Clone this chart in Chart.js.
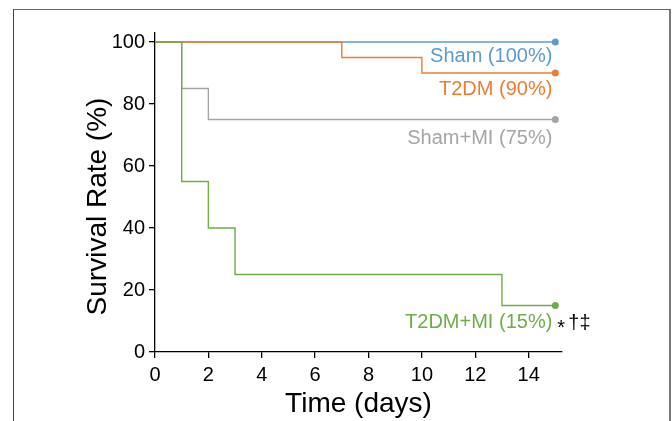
<!DOCTYPE html>
<html>
<head>
<meta charset="utf-8">
<script src="https://cdn.jsdelivr.net/npm/chart.js@4"></script>
<style>
  html, body { margin: 0; padding: 0; background: #fff; }
  #wrap { position: relative; width: 672px; height: 421px; overflow: hidden; }
  #frame {
    position: absolute; left: 13px; top: 9px; width: 655px; height: 430px;
    border-left: 1px solid #444; border-top: 1px solid #666; border-right: 2px solid #777;
  }
  canvas { position: absolute; left: 0; top: 0; }
</style>
</head>
<body>
<div id="wrap">
  <div id="frame"></div>
  <canvas id="km" width="672" height="421"></canvas>
</div>
<script>
// Kaplan-Meier steps: day of each drop, and survival (%) after it
const shamDays = [0, 15];
const shamRate = [100, 100];
const t2dmDays = [0, 7, 10, 15];
const t2dmRate = [100, 95, 90, 90];
const shamMiDays = [0, 1, 2, 15];
const shamMiRate = [100, 85, 75, 75];
const t2dmMiDays = [0, 1, 2, 3, 13, 15];
const t2dmMiRate = [100, 55, 40, 25, 15, 15];

const seriesNames = ['Sham (100%)', 'T2DM (90%)', 'Sham+MI (75%)', 'T2DM+MI (15%)'];
const xTicks = [0, 2, 4, 6, 8, 10, 12, 14];
const yTicks = [0, 20, 40, 60, 80, 100];
const yTitle = 'Survival Rate (%)';

const FONT = '"Liberation Sans", Arial, Helvetica, sans-serif';

function pts(days, rate) {
    return days.map((d, i) => ({ x: d, y: rate[i] }));
}
function endDot(days) {
    return days.map((d, i) => i === days.length - 1 ? 3.5 : 0);
}
function series(label, days, rate, color, order) {
    return {
        label: label,
        data: pts(days, rate),
        borderColor: color,
        backgroundColor: color,
        borderWidth: 1.4,
        stepped: 'before',
        pointRadius: endDot(days),
        pointBorderWidth: 0,
        order: order
    };
}

// series names next to the end dots (dy = offset below the dot) + y title
const endLabels = {
    id: 'endLabels',
    afterDatasetsDraw(chart, args, opts) {
        const ctx = chart.ctx;
        ctx.save();
        ctx.font = '20px ' + FONT;
        ctx.textBaseline = 'middle';
        chart.data.datasets.forEach((ds, i) => {
            const meta = chart.getDatasetMeta(i);
            const p = meta.data[meta.data.length - 1];
            const x = p.x - 3, y = p.y + opts.dy[i];
            ctx.fillStyle = ds.borderColor;
            ctx.textAlign = 'right';
            ctx.fillText(ds.label, x, y);
            if (i === 3) {
                ctx.fillStyle = '#000';
                ctx.textAlign = 'left';
                ctx.fillText('*', x + 5, y + 6);
                ctx.fillText('\u2020\u2021', x + 16, y + 1);
            }
        });
        // y axis title, sits a bit below the middle of the axis
        const ys = chart.scales.y;
        ctx.translate(98, (ys.top + ys.bottom) / 2 + 14);
        ctx.rotate(-Math.PI / 2);
        ctx.font = '28px ' + FONT;
        ctx.fillStyle = '#000';
        ctx.textAlign = 'center';
        ctx.fillText(yTitle, 0, 0);
        ctx.restore();
    }
};

new Chart(document.getElementById('km'), {
    type: 'line',
    data: {
        datasets: [
            series(seriesNames[0], shamDays, shamRate, '#5B9BD5', 3),
            series(seriesNames[1], t2dmDays, t2dmRate, '#ED7D31', 1),
            series(seriesNames[2], shamMiDays, shamMiRate, '#A5A5A5', 2),
            series(seriesNames[3], t2dmMiDays, t2dmMiRate, '#70AD47', 0)
        ]
    },
    options: {
        responsive: false,
        animation: false,
        layout: { padding: { left: 0, top: 33, right: 110, bottom: 0 } },
        plugins: {
            legend: { display: false },
            tooltip: { enabled: false },
            endLabels: { dy: [14, 16, 19, 17] }
        },
        scales: {
            x: {
                type: 'linear',
                min: 0,
                max: 15.25,
                afterBuildTicks: s => { s.ticks = xTicks.map(v => ({ value: v })); },
                afterFit: s => { s.height = 69; },
                grid: { drawOnChartArea: false, drawTicks: true, tickLength: 6, color: '#000', lineWidth: 1.3 },
                border: { display: true, color: '#000', width: 1.3 },
                ticks: { color: '#000', padding: 5, maxRotation: 0, font: { family: FONT, size: 20 } },
                title: { display: true, text: 'Time (days)', color: '#000', padding: { top: 0, bottom: 0 },
                         font: { family: FONT, size: 28 } }
            },
            y: {
                min: 0,
                max: 102.9,
                afterBuildTicks: s => { s.ticks = yTicks.map(v => ({ value: v })); },
                afterFit: s => { s.width = 155; },
                grid: { drawOnChartArea: false, drawTicks: true, tickLength: 6, color: '#000', lineWidth: 1.3 },
                border: { display: true, color: '#000', width: 1.3 },
                ticks: { color: '#000', padding: 4, font: { family: FONT, size: 20 } }
            }
        }
    },
    plugins: [endLabels]
});
</script>
</body>
</html>
